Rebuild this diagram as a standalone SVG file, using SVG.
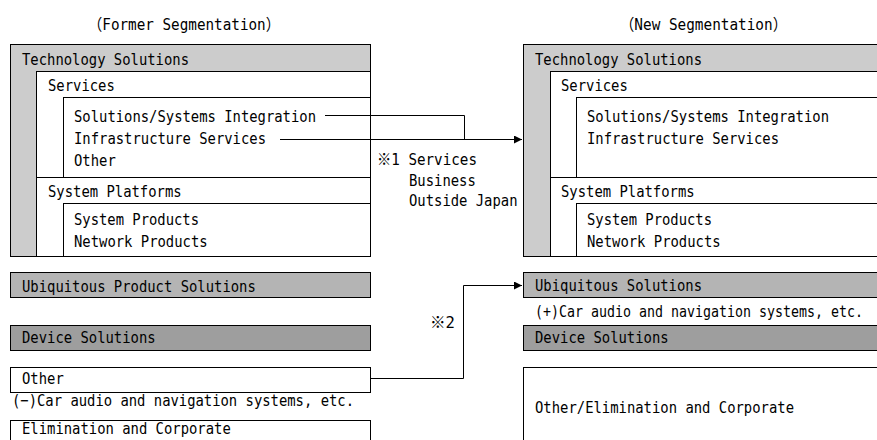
<svg xmlns="http://www.w3.org/2000/svg" width="877" height="440" viewBox="0 0 877 440">
<defs>
<style>
text{font-family:"DejaVu Sans Mono","Liberation Mono","Noto Sans CJK JP",monospace;font-size:16px;fill:#000}
.b{stroke:#000;stroke-width:1}
.g1{fill:#cccccc}
.g2{fill:#b4b4b4}
.g3{fill:#9e9e9e}
.w{fill:#fff}
.c{fill:none;stroke:#000;stroke-width:1}
</style>
<marker id="ah" viewBox="0 0 8 8" refX="8" refY="4" markerWidth="8" markerHeight="8" markerUnits="userSpaceOnUse" orient="auto">
<path d="M0,0 L8,4 L0,8 z" fill="#000"/>
</marker>
</defs>
<text x="88" y="30" textLength="192" lengthAdjust="spacingAndGlyphs">（Former Segmentation）</text>
<text x="620" y="30" textLength="167" lengthAdjust="spacingAndGlyphs">（New Segmentation）</text>

<g id="left-tech">
<rect class="b g1" x="10.5" y="44.5" width="360" height="212"/>
<text x="22" y="65" textLength="167" lengthAdjust="spacingAndGlyphs">Technology Solutions</text>
<rect class="b w" x="36.5" y="71.5" width="334" height="106"/>
<text x="48" y="91" textLength="66.8" lengthAdjust="spacingAndGlyphs">Services</text>
<rect class="b w" x="63.5" y="97.5" width="307" height="80"/>
<text x="74" y="122" textLength="242" lengthAdjust="spacingAndGlyphs">Solutions/Systems Integration</text>
<text x="74" y="144" textLength="192" lengthAdjust="spacingAndGlyphs">Infrastructure Services</text>
<text x="74" y="166" textLength="41.75" lengthAdjust="spacingAndGlyphs">Other</text>
<rect class="b w" x="36.5" y="177.5" width="334" height="79"/>
<text x="48" y="197" textLength="133.6" lengthAdjust="spacingAndGlyphs">System Platforms</text>
<rect class="b w" x="63.5" y="203.5" width="307" height="53"/>
<text x="74" y="225" textLength="125" lengthAdjust="spacingAndGlyphs">System Products</text>
<text x="74" y="247" textLength="133.6" lengthAdjust="spacingAndGlyphs">Network Products</text>
</g>
<g id="left-ubiq">
<rect class="b g2" x="10.5" y="272.5" width="360" height="25"/>
<text x="22" y="292" textLength="233.8" lengthAdjust="spacingAndGlyphs">Ubiquitous Product Solutions</text>
</g>
<g id="left-device">
<rect class="b g3" x="10.5" y="325.5" width="360" height="25"/>
<text x="22" y="343" textLength="133.6" lengthAdjust="spacingAndGlyphs">Device Solutions</text>
</g>
<g id="left-other">
<rect class="b w" x="10.5" y="367.5" width="360" height="25"/>
<text x="22" y="384" textLength="41.75" lengthAdjust="spacingAndGlyphs">Other</text>
<text x="12" y="406" textLength="342" lengthAdjust="spacingAndGlyphs">(−)Car audio and navigation systems, etc.</text>
</g>
<g id="left-elim">
<rect class="b w" x="10.5" y="420.5" width="360" height="30"/>
<text x="22" y="434" textLength="208.75" lengthAdjust="spacingAndGlyphs">Elimination and Corporate</text>
</g>

<g id="right-tech">
<rect class="b g1" x="523.5" y="44.5" width="360" height="212"/>
<text x="535" y="65" textLength="167" lengthAdjust="spacingAndGlyphs">Technology Solutions</text>
<rect class="b w" x="550.5" y="71.5" width="334" height="106"/>
<text x="561" y="91" textLength="66.8" lengthAdjust="spacingAndGlyphs">Services</text>
<rect class="b w" x="576.5" y="97.5" width="307" height="80"/>
<text x="587" y="122" textLength="242" lengthAdjust="spacingAndGlyphs">Solutions/Systems Integration</text>
<text x="587" y="144" textLength="192" lengthAdjust="spacingAndGlyphs">Infrastructure Services</text>
<rect class="b w" x="550.5" y="177.5" width="334" height="79"/>
<text x="561" y="197" textLength="133.6" lengthAdjust="spacingAndGlyphs">System Platforms</text>
<rect class="b w" x="576.5" y="203.5" width="307" height="53"/>
<text x="587" y="225" textLength="125" lengthAdjust="spacingAndGlyphs">System Products</text>
<text x="587" y="247" textLength="133.6" lengthAdjust="spacingAndGlyphs">Network Products</text>
</g>
<g id="right-ubiq">
<rect class="b g2" x="523.5" y="272.5" width="360" height="25"/>
<text x="535" y="291" textLength="167" lengthAdjust="spacingAndGlyphs">Ubiquitous Solutions</text>
<text x="535" y="317" textLength="328" lengthAdjust="spacingAndGlyphs">(+)Car audio and navigation systems, etc.</text>
</g>
<g id="right-device">
<rect class="b g3" x="523.5" y="325.5" width="360" height="25"/>
<text x="535" y="343" textLength="133.6" lengthAdjust="spacingAndGlyphs">Device Solutions</text>
</g>
<g id="right-other">
<rect class="b w" x="523.5" y="367.5" width="360" height="80"/>
<text x="535" y="413" textLength="259" lengthAdjust="spacingAndGlyphs">Other/Elimination and Corporate</text>
</g>

<g id="connectors">
<path class="c" d="M325,115.5 H464.5 V139"/>
<path class="c" d="M280,139.5 H522" marker-end="url(#ah)"/>
<path class="c" d="M371,378.5 H463.5 V285.5 H522" marker-end="url(#ah)"/>
</g>
<g id="labels">
<text x="377" y="165" textLength="100" lengthAdjust="spacingAndGlyphs">※1 Services</text>
<text x="409" y="186" textLength="66.8" lengthAdjust="spacingAndGlyphs">Business</text>
<text x="409" y="206" textLength="108.5" lengthAdjust="spacingAndGlyphs">Outside Japan</text>
<text x="430" y="328" textLength="25" lengthAdjust="spacingAndGlyphs">※2</text>
</g>
</svg>
